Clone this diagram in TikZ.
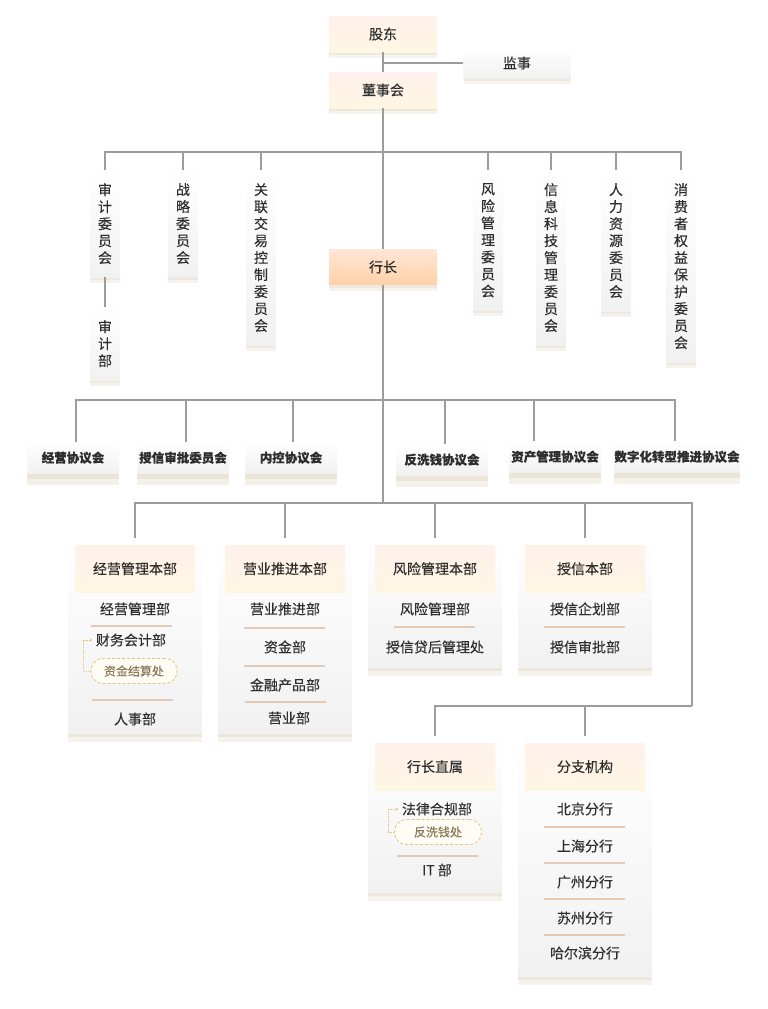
\documentclass[tikz,border=0pt]{standalone}
\usepackage{fontspec}
\setmainfont{Noto Sans CJK SC}[FakeBold=0.2]
\usepackage{tikz}
\usetikzlibrary{shadows,arrows.meta,positioning}
\definecolor{linec}{HTML}{9C9C9C}
\definecolor{txtc}{HTML}{2E2E2E}
\definecolor{headt}{HTML}{FFF1EC}
\definecolor{headb}{HTML}{FFF6E2}
\definecolor{hzt}{HTML}{FFE6D6}
\definecolor{hzb}{HTML}{FFD2A8}
\definecolor{cardb}{HTML}{F1F1F1}
\definecolor{sepc}{HTML}{E2CAB4}
\definecolor{dotc}{HTML}{E4C47A}
\definecolor{subc}{HTML}{8A7A56}
\definecolor{shc}{HTML}{DCD3BC}
\tikzstyle{link}=[draw=linec, line width=1.5pt]
\tikzstyle{sep}=[draw=sepc, line width=1.8pt]
\tikzstyle{dotlink}=[draw=dotc, densely dotted, line width=0.9pt, -{Stealth[length=3pt,width=3pt]}]
\tikzstyle{softshadow}=[drop shadow={shadow xshift=0pt, shadow yshift=-3pt, opacity=.3, fill=shc},
  drop shadow={shadow xshift=0pt, shadow yshift=-6pt, opacity=.25, fill=shc}]
\tikzstyle{topbox}=[minimum width=108pt, minimum height=36pt, inner sep=0pt, text=txtc,
  font=\fontsize{14}{16}\selectfont, top color=headt, bottom color=headb, softshadow]
\tikzstyle{greybox}=[topbox, top color=white, bottom color=cardb]
\tikzstyle{comm}=[anchor=north, minimum width=30pt, inner xsep=0pt, inner ysep=13pt, align=center,
  text=txtc, font=\fontsize{14}{17}\selectfont, top color=white, bottom color=cardb, softshadow]
\tikzstyle{pbox}=[anchor=north, minimum width=92pt, minimum height=31pt, inner sep=0pt, text=txtc,
  font=\bfseries\fontsize{12.5}{14}\selectfont, top color=white, bottom color=cardb,
  drop shadow={shadow xshift=0pt, shadow yshift=-6pt, opacity=.4, fill=shc},
  drop shadow={shadow xshift=0pt, shadow yshift=-12pt, opacity=.3, fill=shc}]
\tikzstyle{card}=[anchor=north, minimum width=134pt, inner sep=0pt, top color=white, bottom color=cardb,
  drop shadow={shadow xshift=0pt, shadow yshift=-4pt, opacity=.35, fill=shc},
  drop shadow={shadow xshift=0pt, shadow yshift=-9pt, opacity=.25, fill=shc}]
\tikzstyle{head}=[anchor=north, minimum width=120pt, minimum height=47pt, inner sep=0pt, text=txtc,
  font=\fontsize{14}{16}\selectfont, top color=headt, bottom color=headb]
\tikzstyle{item}=[text=txtc, font=\fontsize{14}{16}\selectfont]
\tikzstyle{subbox}=[draw=dotc, densely dashed, line width=0.8pt, fill=headb!30, rounded corners=12pt,
  minimum height=25pt, text=subc, font=\fontsize{12}{14}\selectfont]

\begin{document}
\begin{tikzpicture}[x=1pt, y=-1pt]

\useasboundingbox[fill=white] (0,0) rectangle (768,1009);

% top
\node[topbox] (gd) at (383,34) {股东};
\node[greybox, minimum width=107pt, minimum height=30pt] (js) at (517,63) {监事};
\node[topbox] (dsh) at (383,90) {董事会};
\node[topbox, top color=hzt, bottom color=hzb, minimum height=35pt] (hz) at (383,267) {行长};
\draw[link] (gd.south) -- (dsh.north);
\draw[link] (js.west) -- (js.west -| gd.south);

% committees
\coordinate (cbar) at (383,152);
\draw[link] (dsh.south) -- (hz.north);
\foreach \x/\t [count=\i] in {105/{审\\计\\委\\员\\会}, 183/{战\\略\\委\\员\\会},
    261/{关\\联\\交\\易\\控\\制\\委\\员\\会}, 488/{风\\险\\管\\理\\委\\员\\会},
    551/{信\\息\\科\\技\\管\\理\\委\\员\\会}, 616/{人\\力\\资\\源\\委\\员\\会},
    681/{消\\费\\者\\权\\益\\保\\护\\委\\员\\会}}
{
    \node[comm] (c\i) at (\x,170) {\t};
    \draw[link] (c\i.north) |- (cbar);
}
\node[comm] (sjb) at (105,307) {审\\计\\部};
\draw[link] (c1.south) -- (sjb.north);

% protocols
\coordinate (pbar) at (383,400);
\node[pbox] (p1) at (73,442) {经营协议会};
\node[pbox] (p2) at (183,442) {授信审批委员会};
\node[pbox] (p3) at (291,442) {内控协议会};
\node[pbox] (p4) at (442,444) {反洗钱协议会};
\node[pbox] (p5) at (555,441) {资产管理协议会};
\node[pbox, minimum width=126pt] (p6) at (677,441) {数字化转型推进协议会};
\draw[link] ([xshift=3pt]p1.north) |- (pbar);
\draw[link] ([xshift=3pt]p2.north) |- (pbar);
\draw[link] ([xshift=2pt]p3.north) |- (pbar);
\draw[link] ([xshift=3pt]p4.north) |- (pbar);
\draw[link] ([xshift=-21pt]p5.north) |- (pbar);
\draw[link] ([xshift=-2pt]p6.north) |- (pbar);

% departments
\coordinate (dbar) at (383,503);
\coordinate (rbar) at (692,706);
\draw[link] (hz.south) -- (dbar);
\node[card, minimum height=195pt] (d1) at (135,538) {};
\node[card, minimum height=195pt] (d2) at (285,538) {};
\node[card, minimum height=129pt] (d3) at (435,538) {};
\node[card, minimum height=129pt] (d4) at (585,538) {};
\node[card, minimum height=156pt] (d5) at (435,736) {};
\node[card, minimum height=240pt] (d6) at (585,736) {};
\foreach \i in {1,...,4}
    \draw[link] (d\i.north) |- (dbar);
\draw[link] (dbar) -| (rbar);
\draw[link] (d5.north) |- (rbar);
\draw[link] (d6.north) |- (rbar);

% headers
\node[head] (d1h) at (135,545) {经营管理本部};
\node[head] (d2h) at (285,545) {营业推进本部};
\node[head] (d3h) at (435,545) {风险管理本部};
\node[head] (d4h) at (585,545) {授信本部};
\node[head] (d5h) at (435,743) {行长直属};
\node[head] (d6h) at (585,743) {分支机构};

% items
\node[item] (jyglb) at (135,609) {经营管理部};
\draw[sep] (91,626) -- (172,626);
\node[item] (cwkjb) at (131,640) {财务会计部};
\node[subbox, minimum width=86pt] (zjjsc) at (134,671) {资金结算处};
\draw[dotlink] (zjjsc.west) -- ++(-7,0) |- (cwkjb.west);
\draw[sep] (92,700) -- (173,700);
\node[item] (rsb) at (135,719) {人事部};

\node[item] (yytjb) at (285,609) {营业推进部};
\draw[sep] (244,628) -- (325,628);
\node[item] (zjb) at (285,647) {资金部};
\draw[sep] (244,666) -- (325,666);
\node[item] (jrcpb) at (285,685) {金融产品部};
\draw[sep] (245,702) -- (326,702);
\node[item] (yyb) at (289,718) {营业部};

\node[item] (fxglb) at (435,609) {风险管理部};
\draw[sep] (394,627) -- (475,627);
\node[item] (sxdh) at (435,647) {授信贷后管理处};

\node[item] (sxqhb) at (585,609) {授信企划部};
\draw[sep] (544,627) -- (625,627);
\node[item] (sxspb) at (585,647) {授信审批部};

\node[item] (flhgb) at (437,809) {法律合规部};
\node[subbox, minimum width=87pt] (fxqc) at (438,832) {反洗钱处};
\draw[dotlink] (fxqc.west) -- ++(-6,0) |- (flhgb.west);
\draw[sep] (397,856) -- (478,856);
\node[item] (itb) at (437,870) {IT 部};

\foreach \t/\y [count=\i] in {北京分行/809, 上海分行/846, 广州分行/882, 苏州分行/918, 哈尔滨分行/953}
    \node[item] (fh\i) at (585,\y) {\t};
\foreach \y in {827,863,899,935}
    \draw[sep] (544,\y) -- (625,\y);

\end{tikzpicture}
\end{document}
